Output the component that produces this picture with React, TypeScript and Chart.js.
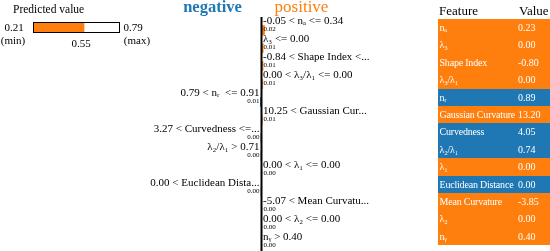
import React, { useEffect, useRef } from "react";
import { Chart, registerables } from "chart.js";

Chart.register(...registerables);

const ORANGE = "#ff7f0e";
const BLUE = "#1f77b4";
const FONT = "'Liberation Serif', 'Times New Roman', serif";

// ---- data ----
const featureConditions = [
  "-0.05 < nₐ <= 0.34",
  "λ₃ <= 0.00",
  "-0.84 < Shape Index <...",
  "0.00 < λ₃/λ₁ <= 0.00",
  "0.79 < nᵣ  <= 0.91",
  "10.25 < Gaussian Cur...",
  "3.27 < Curvedness <=...",
  "λ₂/λ₁ > 0.71",
  "0.00 < λ₁ <= 0.00",
  "0.00 < Euclidean Dista...",
  "-5.07 < Mean Curvatu...",
  "0.00 < λ₂ <= 0.00",
  "nᵧ > 0.40",
];
const featureWeights = [0.021, 0.012, 0.011, 0.009, -0.008, 0.006, -0.004, -0.004, 0.003, -0.003, 0.002, 0.002, 0.001];

const tableFeatures = [
  "nₐ", "λ₃", "Shape Index", "λ₃/λ₁", "nᵣ", "Gaussian Curvature", "Curvedness",
  "λ₂/λ₁", "λ₁", "Euclidean Distance", "Mean Curvature", "λ₂", "nᵧ",
];
const tableValues = ["0.23", "0.00", "-0.80", "0.00", "0.89", "13.20", "4.05", "0.74", "0.00", "0.00", "-3.85", "0.00", "0.40"];

const classNames = ["negative", "positive"];
const predMin = 0.21;
const predMax = 0.79;
const predValue = 0.55;

function MainChart() {
  const ref = useRef<HTMLCanvasElement>(null);
  useEffect(() => {
    const labelPlugin = {
      id: "limeLabels",
      afterDatasetsDraw(chart: any) {
        const { ctx } = chart;
        const xs = chart.scales.x;
        const ys = chart.scales.y;
        const x0 = xs.getPixelForValue(0);
        ctx.save();
        const yFirst = ys.getPixelForValue(0);
        const yLast = ys.getPixelForValue(featureConditions.length - 1);
        ctx.strokeStyle = "#000";
        ctx.lineWidth = 2;
        ctx.beginPath();
        ctx.moveTo(x0, yFirst - 13);
        ctx.lineTo(x0, yLast + 7);
        ctx.stroke();
        ctx.textBaseline = "middle";
        featureConditions.forEach((lab, i) => {
          const y = ys.getPixelForValue(i);
          const w = featureWeights[i];
          const pos = w >= 0;
          ctx.fillStyle = "#000";
          ctx.textAlign = pos ? "left" : "right";
          const tx = pos ? x0 + 1.5 : x0 - 2;
          ctx.font = `11px ${FONT}`;
          ctx.fillText(lab, tx, y - 9);
          ctx.font = `7px ${FONT}`;
          ctx.fillText(Math.abs(w).toFixed(2), tx + (pos ? 0.5 : 0), y - 0.5);
        });
        ctx.textAlign = "center";
        ctx.font = `bold 16.5px ${FONT}`;
        ctx.fillStyle = BLUE;
        ctx.fillText(classNames[0], x0 - 49, 7.5);
        ctx.font = `17px ${FONT}`;
        ctx.fillStyle = ORANGE;
        ctx.fillText(classNames[1], x0 + 40, 7.5);
        ctx.restore();
      },
    };
    const chart = new Chart(ref.current!, {
      type: "bar",
      data: {
        labels: featureConditions,
        datasets: [
          {
            data: featureWeights,
            backgroundColor: featureWeights.map((w) => (w >= 0 ? ORANGE : BLUE)),
            barThickness: 9,
          },
        ],
      },
      options: {
        indexAxis: "y",
        animation: false,
        responsive: false,
        maintainAspectRatio: false,
        layout: { padding: { top: 21, bottom: 0, left: 0, right: 0 } },
        plugins: { legend: { display: false }, tooltip: { enabled: false } },
        scales: {
          x: { display: false, min: -1, max: 1 },
          y: { display: false },
        },
      },
      plugins: [labelPlugin],
    });
    return () => chart.destroy();
  }, []);
  return <canvas ref={ref} width={287} height={255} style={{ position: "absolute", left: 118, top: 0 }} />;
}

function PredictedChart() {
  const ref = useRef<HTMLCanvasElement>(null);
  useEffect(() => {
    const predPlugin = {
      id: "predLabels",
      afterDatasetsDraw(chart: any) {
        const { ctx, chartArea } = chart;
        const xs = chart.scales.x;
        ctx.save();
        ctx.strokeStyle = "#000";
        ctx.lineWidth = 1;
        ctx.strokeRect(chartArea.left + 0.5, chartArea.top + 0.5, chartArea.right - chartArea.left - 1, chartArea.bottom - chartArea.top - 1);
        ctx.fillStyle = "#000";
        ctx.textBaseline = "middle";
        ctx.font = `11.5px ${FONT}`;
        ctx.textAlign = "left";
        ctx.fillText("Predicted value", 13, 10);
        ctx.textAlign = "center";
        ctx.font = `11px ${FONT}`;
        ctx.fillText(predMin.toFixed(2), chartArea.left - 19, chartArea.top + 6);
        ctx.fillText("(min)", chartArea.left - 20, chartArea.top + 19);
        ctx.fillText(predMax.toFixed(2), chartArea.right + 13, chartArea.top + 6);
        ctx.fillText("(max)", chartArea.right + 17, chartArea.top + 19);
        ctx.fillText(predValue.toFixed(2), xs.getPixelForValue(predValue) - 3, chartArea.bottom + 11);
        ctx.restore();
      },
    };
    const chart = new Chart(ref.current!, {
      type: "bar",
      data: {
        labels: ["pred"],
        datasets: [
          {
            data: [[predMin, predValue]],
            backgroundColor: ORANGE,
            barPercentage: 1,
            categoryPercentage: 1,
          },
        ],
      },
      options: {
        indexAxis: "y",
        animation: false,
        responsive: false,
        maintainAspectRatio: false,
        layout: { padding: { top: 22, bottom: 17, left: 33, right: 40 } },
        plugins: { legend: { display: false }, tooltip: { enabled: false } },
        scales: {
          x: { display: false, min: predMin, max: predMax },
          y: { display: false },
        },
      },
      plugins: [predPlugin],
    });
    return () => chart.destroy();
  }, []);
  return <canvas ref={ref} width={160} height={50} style={{ position: "absolute", left: 0, top: 0 }} />;
}

function FeatureTable() {
  const rowH = 17.4;
  return (
    <div style={{ position: "absolute", left: 438, top: 0, width: 112, fontFamily: FONT, color: "#000" }}>
      <div style={{ height: 19, position: "relative", fontSize: 13 }}>
        <span style={{ position: "absolute", left: 1, top: 3 }}>Feature</span>
        <span style={{ position: "absolute", left: 81, top: 3 }}>Value</span>
      </div>
      {tableFeatures.map((f, i) => (
        <div
          key={i}
          style={{
            height: rowH,
            position: "relative",
            background: featureWeights[i] >= 0 ? ORANGE : BLUE,
            color: "#fff",
            fontSize: 10,
            lineHeight: `${rowH}px`,
            whiteSpace: "nowrap",
          }}
        >
          <span style={{ position: "absolute", left: 1.5, top: 0, letterSpacing: "-0.2px" }}>{f}</span>
          <span style={{ position: "absolute", left: 80, top: 0 }}>{tableValues[i]}</span>
        </div>
      ))}
    </div>
  );
}

export default function App() {
  return (
    <div style={{ position: "absolute", left: 0, top: 0, width: 550, height: 251, overflow: "hidden", background: "#fff" }}>
      <PredictedChart />
      <MainChart />
      <FeatureTable />
    </div>
  );
}
